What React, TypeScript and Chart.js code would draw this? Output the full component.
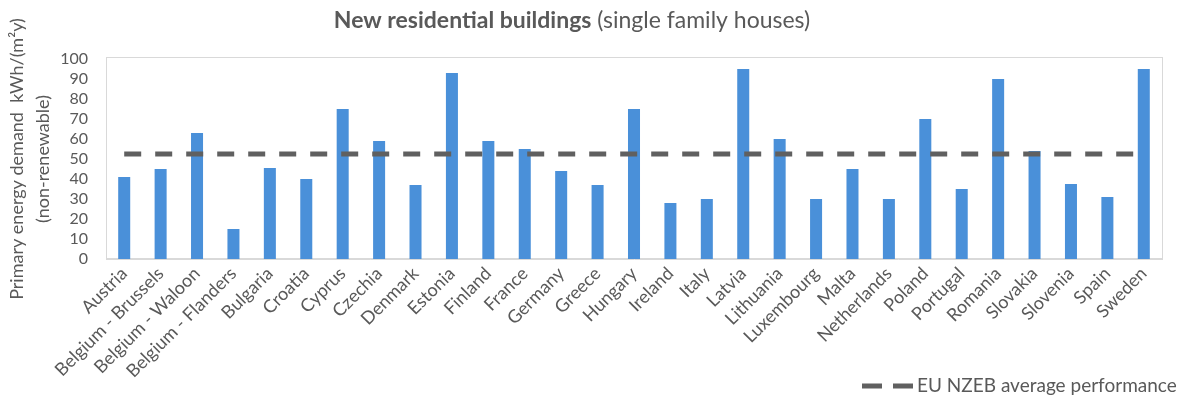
import React, { useEffect, useRef } from "react";
import { Chart, registerables } from "chart.js";

Chart.register(...registerables);

const CATEGORIES = [
  "Austria",
  "Belgium - Brussels",
  "Belgium - Waloon",
  "Belgium - Flanders",
  "Bulgaria",
  "Croatia",
  "Cyprus",
  "Czechia",
  "Denmark",
  "Estonia",
  "Finland",
  "France",
  "Germany",
  "Greece",
  "Hungary",
  "Ireland",
  "Italy",
  "Latvia",
  "Lithuania",
  "Luxembourg",
  "Malta",
  "Netherlands",
  "Poland",
  "Portugal",
  "Romania",
  "Slovakia",
  "Slovenia",
  "Spain",
  "Sweden",
];

const PRIMARY_ENERGY = [
  41, 45, 63, 15, 45.5, 40, 75, 59, 37, 93, 59, 55, 44, 37, 75, 28, 30, 95, 60,
  30, 45, 30, 70, 35, 90, 54, 37.5, 31, 95,
];

const NZEB_AVERAGE = 52.5;

const Y_MIN = 0;
const Y_MAX = 100;
const Y_STEP = 10;

const TITLE_BOLD = "New residential buildings";
const TITLE_NORMAL = " (single family houses)";
const Y_TITLE = ["Primary energy demand  kWh/(m²y)", "(non-renewable)"];
const LEGEND_LABEL = "EU NZEB average performance";

const TEXT_COLOR = "#595959";
const BAR_COLOR = "#4a90d9";
const LINE_COLOR = "#606060";
const FRAME_COLOR = "#d9d9d9";
const FONT = "Lato";

const framePlugin = {
  id: "frame",
  beforeDatasetsDraw(chart: any) {
    const { ctx, chartArea } = chart;
    ctx.save();
    ctx.strokeStyle = FRAME_COLOR;
    ctx.lineWidth = 1;
    ctx.strokeRect(
      Math.round(chartArea.left) + 0.5,
      Math.round(chartArea.top) - 1.5,
      Math.round(chartArea.right - chartArea.left),
      Math.round(chartArea.bottom - chartArea.top) + 1
    );
    ctx.restore();
  },
};

const titlePlugin = {
  id: "mixedTitle",
  afterDraw(chart: any) {
    const { ctx } = chart;
    ctx.save();
    ctx.fillStyle = TEXT_COLOR;
    ctx.textBaseline = "alphabetic";
    ctx.textAlign = "left";
    const boldFont = `bold 23px ${FONT}`;
    const normFont = `23px ${FONT}`;
    ctx.font = boldFont;
    const wb = ctx.measureText(TITLE_BOLD).width;
    ctx.font = normFont;
    const wn = ctx.measureText(TITLE_NORMAL).width;
    const cx = 572;
    const x0 = cx - (wb + wn) / 2;
    const baseline = 28;
    ctx.font = boldFont;
    ctx.fillText(TITLE_BOLD, x0, baseline);
    ctx.font = normFont;
    ctx.fillText(TITLE_NORMAL, x0 + wb, baseline);
    ctx.restore();
  },
};

const legendPlugin = {
  id: "customLegend",
  afterDraw(chart: any) {
    const { ctx } = chart;
    const ds = chart.data.datasets[1];
    ctx.save();
    ctx.strokeStyle = ds.borderColor;
    ctx.lineWidth = ds.borderWidth;
    ctx.lineCap = "butt";
    ctx.setLineDash([20, 11]);
    const y = 386;
    ctx.beginPath();
    ctx.moveTo(862, y);
    ctx.lineTo(913, y);
    ctx.stroke();
    ctx.setLineDash([]);
    ctx.fillStyle = TEXT_COLOR;
    ctx.font = `19px ${FONT}`;
    ctx.textAlign = "left";
    ctx.textBaseline = "alphabetic";
    ctx.fillText(ds.label, 917, 392);
    ctx.restore();
  },
};

export default function App() {
  const canvasRef = useRef<HTMLCanvasElement | null>(null);

  useEffect(() => {
    document.body.style.margin = "0";
    const canvas = canvasRef.current;
    if (!canvas) return;
    const chart = new Chart(canvas, {
      type: "bar",
      data: {
        labels: CATEGORIES,
        datasets: [
          {
            type: "bar",
            label: "Primary energy demand",
            data: PRIMARY_ENERGY,
            backgroundColor: BAR_COLOR,
            borderWidth: 0,
            barPercentage: 0.33,
            categoryPercentage: 1,
            order: 1,
          },
          {
            type: "line",
            label: LEGEND_LABEL,
            data: CATEGORIES.map(() => NZEB_AVERAGE),
            borderColor: LINE_COLOR,
            borderWidth: 5,
            borderDash: [17, 14],
            pointRadius: 0,
            fill: false,
            tension: 0,
            order: 0,
          } as any,
        ],
      },
      options: {
        responsive: false,
        animation: false,
        devicePixelRatio: 1,
        layout: { padding: { top: 59, right: 18, left: 0, bottom: 0 } },
        plugins: {
          legend: { display: false },
          title: { display: false },
          tooltip: { enabled: false },
        },
        scales: {
          x: {
            offset: true,
            grid: { display: false, drawTicks: false },
            border: { display: true, color: FRAME_COLOR },
            ticks: {
              autoSkip: false,
              minRotation: 45,
              maxRotation: 45,
              padding: 4,
              color: TEXT_COLOR,
              font: { family: FONT, size: 18 },
            },
            afterFit(axis: any) {
              axis.height = 139;
            },
          },
          y: {
            min: Y_MIN,
            max: Y_MAX,
            grid: { display: false, drawTicks: false },
            border: { display: false },
            ticks: {
              stepSize: Y_STEP,
              autoSkip: false,
              padding: 18,
              color: TEXT_COLOR,
              font: { family: FONT, size: 16 },
            },
            title: {
              display: true,
              text: Y_TITLE,
              color: TEXT_COLOR,
              font: { family: FONT, size: 18, lineHeight: 1.45 },
              padding: { top: 4, bottom: 0 },
            },
            afterFit(axis: any) {
              axis.width = 106;
            },
          },
        },
      },
      plugins: [framePlugin, titlePlugin, legendPlugin],
    });
    return () => chart.destroy();
  }, []);

  return (
    <div style={{ width: 1180, height: 398, background: "#fff" }}>
      <canvas ref={canvasRef} width={1180} height={398} />
    </div>
  );
}
